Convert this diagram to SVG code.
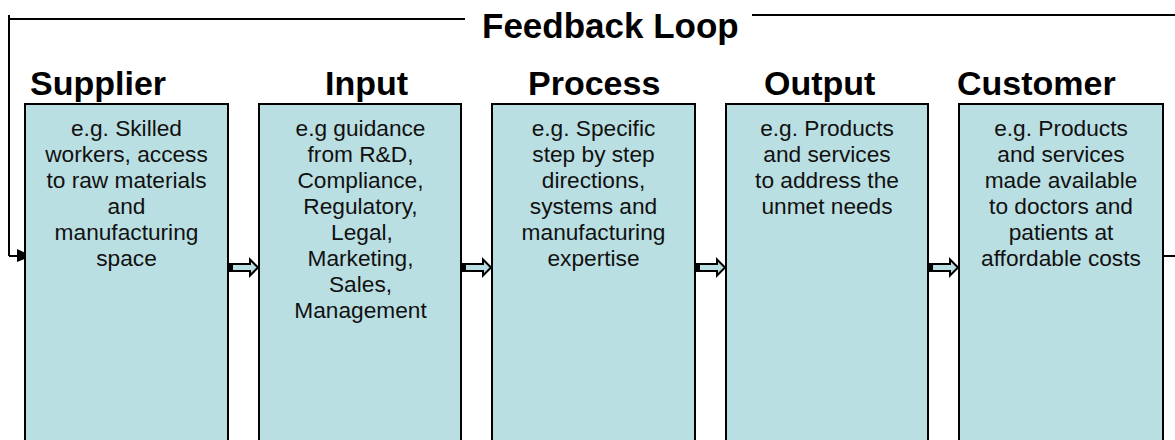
<svg xmlns="http://www.w3.org/2000/svg" width="1175" height="440" viewBox="0 0 1175 440">
<style>
.box{fill:#BADFE2;stroke:#000;stroke-width:2}
.title{font-family:"Liberation Sans",Arial,sans-serif;font-weight:bold;font-size:34px;fill:#000}
.body{font-family:"Liberation Sans",Arial,sans-serif;font-size:22.7px;fill:#111;text-anchor:middle}
.line{fill:none;stroke:#000;stroke-width:2}
.barrow{fill:#BADFE2;stroke:#000;stroke-width:2;stroke-linejoin:miter}
</style>
<defs>
<g id="blk">
<path class="barrow" d="M0,-3.5 H22 V-8 L30,0 L22,8 V3.5 H0 Z"/>
<rect x="0" y="-3.5" width="5" height="7" fill="#000"/>
</g>
</defs>
<rect width="1175" height="440" fill="#fff"/>
<g id="connectors">
<path class="line" d="M9,256 V15 M8,19 H465"/>
<path class="line" d="M752,15 H1175"/>
<path class="line" d="M9,256 H20"/>
<polygon points="17,249 32,256 17,262" fill="#000"/>
<path class="line" d="M1163,256 H1175"/>
<use href="#blk" x="228" y="267.5"/>
<use href="#blk" x="461" y="267.5"/>
<use href="#blk" x="695" y="267.5"/>
<use href="#blk" x="928" y="267.5"/>
</g>
<text class="title" x="482" y="38" style="font-size:35px">Feedback Loop</text>
<g id="supplier">
<rect class="box" x="25" y="104" width="203" height="350"/>
<text class="title" x="30" y="95">Supplier</text>
<text class="body" x="126.5" y="136">e.g. Skilled<tspan x="126.5" dy="26">workers, access</tspan><tspan x="126.5" dy="26">to raw materials</tspan><tspan x="126.5" dy="26">and</tspan><tspan x="126.5" dy="26">manufacturing</tspan><tspan x="126.5" dy="26">space</tspan></text>
</g>
<g id="input">
<rect class="box" x="259" y="104" width="202" height="350"/>
<text class="title" x="325" y="95">Input</text>
<text class="body" x="360.5" y="136">e.g guidance<tspan x="360.5" dy="26">from R&amp;D,</tspan><tspan x="360.5" dy="26">Compliance,</tspan><tspan x="360.5" dy="26">Regulatory,</tspan><tspan x="362" dy="26">Legal,</tspan><tspan x="360.5" dy="26">Marketing,</tspan><tspan x="360.5" dy="26">Sales,</tspan><tspan x="360.5" dy="26">Management</tspan></text>
</g>
<g id="process">
<rect class="box" x="492" y="104" width="203" height="350"/>
<text class="title" x="528" y="95">Process</text>
<text class="body" x="593.5" y="136">e.g. Specific<tspan x="593.5" dy="26">step by step</tspan><tspan x="593.5" dy="26">directions,</tspan><tspan x="593.5" dy="26">systems and</tspan><tspan x="593.5" dy="26">manufacturing</tspan><tspan x="593.5" dy="26">expertise</tspan></text>
</g>
<g id="output">
<rect class="box" x="726" y="104" width="202" height="350"/>
<text class="title" x="764" y="95">Output</text>
<text class="body" x="827" y="136">e.g. Products<tspan x="827" dy="26">and services</tspan><tspan x="827" dy="26">to address the</tspan><tspan x="827" dy="26">unmet needs</tspan></text>
</g>
<g id="customer">
<rect class="box" x="959" y="104" width="204" height="350"/>
<text class="title" x="957" y="95">Customer</text>
<text class="body" x="1061" y="136">e.g. Products<tspan x="1061" dy="26">and services</tspan><tspan x="1061" dy="26">made available</tspan><tspan x="1061" dy="26">to doctors and</tspan><tspan x="1061" dy="26">patients at</tspan><tspan x="1061" dy="26">affordable costs</tspan></text>
</g>
</svg>
